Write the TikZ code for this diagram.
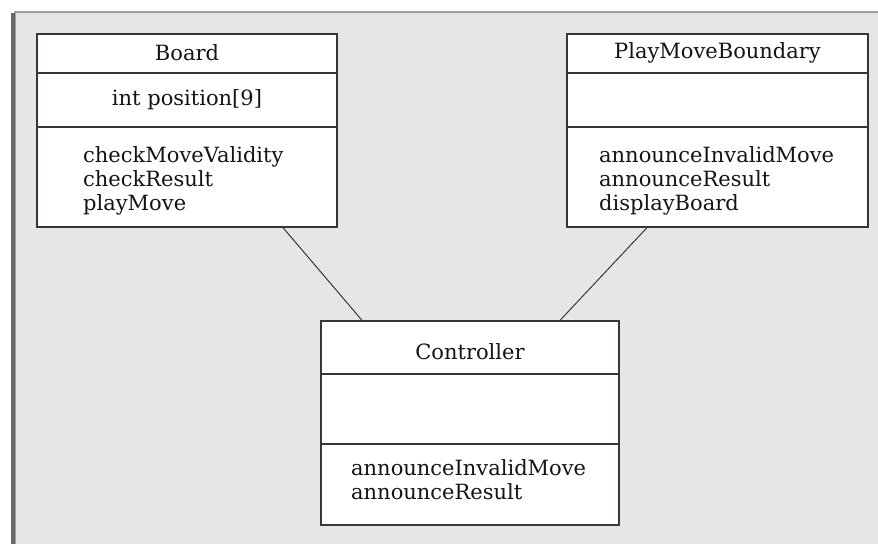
\documentclass[tikz,border=0pt]{standalone}
\usepackage{fontspec}
\setmainfont{DejaVu Serif}
\usetikzlibrary{calc}
\definecolor{bggray}{RGB}{229,230,232}
\definecolor{edgegray}{RGB}{160,160,162}
\definecolor{bargray}{RGB}{105,105,107}
\definecolor{boxline}{RGB}{55,55,57}
\definecolor{txt}{RGB}{20,20,20}
\tikzset{
  classbox/.style={draw=boxline, fill=white, line width=1.3pt, inner sep=0pt},
  divider/.style={draw=boxline, line width=1.3pt},
  cname/.style={font=\fontsize{21}{24}\selectfont, text=txt, inner sep=0pt},
  members/.style={font=\fontsize{21}{24}\selectfont, text=txt, align=left, inner sep=0pt, anchor=west},
  assoc/.style={draw=boxline, line width=1pt}
}
\begin{document}
\begin{tikzpicture}[x=1pt,y=-1pt]
\useasboundingbox (0,0) rectangle (878,544);
% background panel
\fill[white] (0,0) rectangle (878,544);
\fill[bggray] (14,12) rectangle (878,544);
\draw[edgegray, line width=1.5pt] (14,12) -- (878,12);
\draw[bargray, line width=4pt] (12.5,13) -- (12.5,544);
\draw[edgegray, line width=1pt] (15.5,13) -- (15.5,544);

% Board
\node[classbox, minimum width=300pt, minimum height=193pt] (board) at (187,130.5) {};
\draw[divider] (37,73) -- (337,73);
\draw[divider] (37,127) -- (337,127);
\node[cname] (boardname) at (187,53) {Board};
\node[cname] (boardattr) at (187,100) {int position[9]};
\node[members] (boardops) at (83,181) {checkMoveValidity\\checkResult\\playMove};

% PlayMoveBoundary
\node[classbox, minimum width=301pt, minimum height=193pt] (pmb) at (717.5,130.5) {};
\draw[divider] (567,73) -- (868,73);
\draw[divider] (567,127) -- (868,127);
\node[cname] (pmbname) at (717.5,53) {PlayMoveBoundary};
\node[members] (pmbops) at (599,181) {announceInvalidMove\\announceResult\\displayBoard};

% Controller
\node[classbox, minimum width=298pt, minimum height=204pt] (ctrl) at (470,423) {};
\draw[divider] (321,374) -- (619,374);
\draw[divider] (321,444) -- (619,444);
\node[cname] (ctrlname) at (470,352) {Controller};
\node[members] (ctrlops) at (351,479.5) {announceInvalidMove\\announceResult};

% associations
\draw[assoc] ([xshift=96pt]board.south) -- ([xshift=-108pt]ctrl.north);
\draw[assoc] ([xshift=-70.5pt]pmb.south) -- ([xshift=90pt]ctrl.north);
\end{tikzpicture}
\end{document}
